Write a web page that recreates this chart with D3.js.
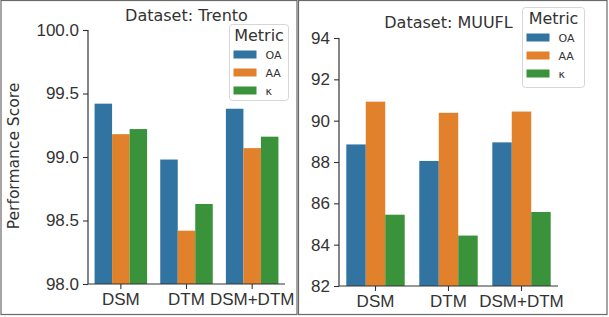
<!DOCTYPE html>
<html>
<head>
<meta charset="utf-8">
<script src="https://cdn.jsdelivr.net/npm/d3@7"></script>
<style>
html,body{margin:0;padding:0;background:#fff;}
svg{display:block;font-family:"DejaVu Sans",sans-serif;}
</style>
</head>
<body>
<svg id="c" width="609" height="317"></svg>
<script>
const categories = ["DSM", "DTM", "DSM+DTM"];
const metrics = ["OA", "AA", "κ"];
const colors = ["#3274a1", "#e1812c", "#3a923a"];

const trentoOA = [99.42, 98.98, 99.38];
const trentoAA = [99.18, 98.42, 99.07];
const trentoK  = [99.22, 98.63, 99.16];
const trentoTicks = [98.0, 98.5, 99.0, 99.5, 100.0];

const muuflOA = [88.85, 88.05, 88.95];
const muuflAA = [90.92, 90.38, 90.44];
const muuflK  = [85.45, 84.44, 85.58];
const muuflTicks = [82, 84, 86, 88, 90, 92, 94];

const svg = d3.select("#c");

// panel frames
svg.append("rect").attr("x",1).attr("y",0.5).attr("width",296).attr("height",314)
  .attr("fill","none").attr("stroke","#6a6a6a").attr("stroke-width",1.2);
svg.append("rect").attr("x",298.5).attr("y",0.5).attr("width",308.5).attr("height",314)
  .attr("fill","none").attr("stroke","#6a6a6a").attr("stroke-width",1.2);

function panel(cfg){
  const g = svg.append("g");
  const x = d3.scaleBand().domain(categories).range([cfg.x0, cfg.x1]).paddingInner(0).paddingOuter(0);
  const y = d3.scaleLinear().domain(cfg.domain).range([cfg.y1, cfg.y0]);
  const inner = x.bandwidth()*0.8;
  const xs = d3.scaleBand().domain(metrics).range([0, inner]);
  const series = [cfg.oa, cfg.aa, cfg.k];
  metrics.forEach((m, mi) => {
    g.selectAll(null).data(categories).enter().append("rect")
      .attr("x", (c) => x(c) + x.bandwidth()*0.1 + xs(m))
      .attr("width", xs.bandwidth())
      .attr("y", (c, i) => y(series[mi][i]))
      .attr("height", (c, i) => y(cfg.domain[0]) - y(series[mi][i]))
      .attr("fill", colors[mi]);
  });
  // y axis
  const ya = g.append("g").attr("transform", `translate(${cfg.x0},0)`)
    .call(d3.axisLeft(y).tickValues(cfg.ticks).tickFormat(d3.format(cfg.fmt)).tickSize(5).tickPadding(4));
  ya.select(".domain").attr("stroke","#333").attr("stroke-width",1.2).attr("d",`M0,${cfg.y0}V${cfg.y1}`);
  ya.selectAll(".tick line").attr("stroke","#333").attr("stroke-width",1.1);
  ya.selectAll(".tick text").attr("fill","#333").style("font-size","17px");
  // x axis
  const xa = g.append("g").attr("transform", `translate(0,${cfg.y1})`)
    .call(d3.axisBottom(x).tickSize(5).tickPadding(4));
  xa.select(".domain").attr("stroke","#333").attr("stroke-width",1.2).attr("d",`M${cfg.x0},0H${cfg.x1}`);
  xa.selectAll(".tick line").attr("stroke","#333").attr("stroke-width",1.1);
  xa.selectAll(".tick text").attr("fill","#333").style("font-size","17px");
  // title
  g.append("text").attr("x",(cfg.x0+cfg.x1)/2).attr("y",cfg.titleY)
    .attr("text-anchor","middle").attr("fill","#333").style("font-size","16px").text(cfg.title);
  // legend
  const L = cfg.leg;
  g.append("rect").attr("x",L.x).attr("y",L.y).attr("width",L.w).attr("height",L.h)
    .attr("rx",3).attr("fill","#fff").attr("fill-opacity",0.85).attr("stroke","#d6d6d6");
  g.append("text").attr("x",L.x+L.w/2).attr("y",L.y+16).attr("text-anchor","middle")
    .attr("fill","#333").style("font-size","16px").text("Metric");
  metrics.forEach((m, mi) => {
    const cy = L.y + 30 + mi*18;
    g.append("rect").attr("x",L.x+4).attr("y",cy-4).attr("width",23).attr("height",8).attr("fill",colors[mi]);
    g.append("text").attr("x",L.x+36).attr("y",cy+4).attr("fill","#333")
      .style("font-size","11px").text(m);
  });
}

panel({x0:88, x1:285, y0:30, y1:284, domain:[98,100], ticks:trentoTicks, fmt:".1f",
  oa:trentoOA, aa:trentoAA, k:trentoK, title:"Dataset: Trento", titleY:21,
  leg:{x:229.5, y:24.5, w:59, h:76}});
panel({x0:339, x1:558, y0:38, y1:286, domain:[82,94], ticks:muuflTicks, fmt:"d",
  oa:muuflOA, aa:muuflAA, k:muuflK, title:"Dataset: MUUFL", titleY:28,
  leg:{x:522.5, y:7.5, w:62, h:80}});

// y label
svg.append("text").attr("transform","translate(19,156) rotate(-90)").attr("text-anchor","middle")
  .attr("fill","#333").style("font-size","15.5px").text("Performance Score");
</script>
</body>
</html>
